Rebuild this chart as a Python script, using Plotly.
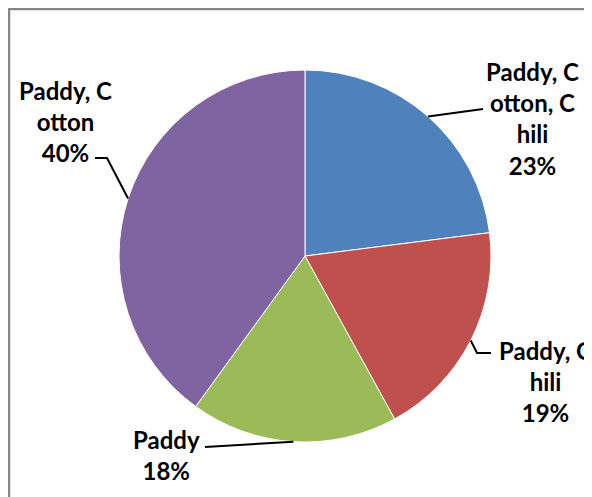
import math
import plotly.graph_objects as go

# ---- data ----
labels = ["Paddy, Cotton, Chili", "Paddy, Chili", "Paddy", "Paddy, Cotton"]
values = [23, 19, 18, 40]
label_lines = [["Paddy, C", "otton, C", "hili"], ["Paddy, C", "hili"], ["Paddy"], ["Paddy, C", "otton"]]
colors = ["#4F81BD", "#C0504D", "#9BBB59", "#8064A2"]

W, H = 592, 497
OFF = 8  # page body margin
CX, CY, R = 305, 256, 186

# label anchor (pixel) positions and leader-line waypoints (style), in screen pixels
label_pos = [(532, 118), (545, 381), (166, 455), (65, 121)]
leader_mid = [[(483, 109)], [(477, 353), (491, 353)], [(205, 447)], [(107, 158), (95, 158)]]

def px(x):
    return (x - OFF) / W

def py(y):
    return 1 - (y - OFF) / H

fig = go.Figure()
fig.add_trace(go.Pie(
    labels=labels, values=values, sort=False, direction="clockwise", rotation=0,
    marker=dict(colors=colors, line=dict(color="white", width=1)),
    textinfo="none", hoverinfo="label+percent", showlegend=False,
    domain=dict(x=[px(CX - R), px(CX + R)], y=[py(CY + R), py(CY - R)]),
))

total = sum(values)
shapes = [dict(type="rect", xref="paper", yref="paper", x0=px(9), y0=py(9), x1=1.1, y1=-0.1,
               line=dict(color="#878787", width=2.5), fillcolor="rgba(0,0,0,0)")]
annotations = []
cum = 0
for i, v in enumerate(values):
    mid = (cum + v / 2) / total * 2 * math.pi
    cum += v
    sx = CX + R * math.sin(mid)
    sy = CY - R * math.cos(mid)
    pts = [(sx, sy)] + leader_mid[i]
    path = "M " + " L ".join(f"{px(x)},{py(y)}" for x, y in pts)
    shapes.append(dict(type="path", xref="paper", yref="paper", path=path,
                       line=dict(color="black", width=2)))
    pct = round(v / total * 100)
    text = "<br>".join(label_lines[i] + [f"{pct}%"])
    lx, ly = label_pos[i]
    annotations.append(dict(x=px(lx), y=py(ly), xref="paper", yref="paper", text=text,
                            showarrow=False, align="center", xanchor="center", yanchor="middle",
                            font=dict(family="Lato", size=24, color="black", weight="bold")))

fig.update_layout(
    width=W, height=H, margin=dict(l=0, r=0, t=0, b=0),
    paper_bgcolor="white", plot_bgcolor="white",
    shapes=shapes, annotations=annotations,
)
fig.write_html("out.html")
